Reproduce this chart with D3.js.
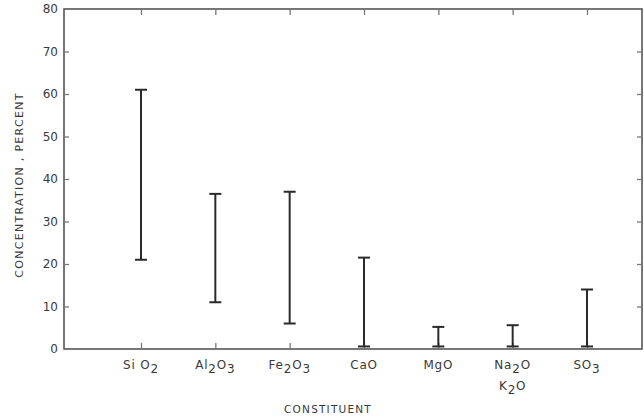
<!DOCTYPE html>
<html>
<head>
<meta charset="utf-8">
<script src="https://cdn.jsdelivr.net/npm/d3@7"></script>
<style>
  html, body { margin: 0; padding: 0; background: #fff; }
  svg { display: block; }
  text { font-family: "DejaVu Sans", sans-serif; fill: #3a3a3a; }
</style>
</head>
<body>
<svg id="chart" width="644" height="418"></svg>
<script>
// ---- data ----
const categories = ["SiO2", "Al2O3", "Fe2O3", "CaO", "MgO", "Na2O K2O", "SO3"];
const lowValues  = [21, 11, 6, 0.6, 0.6, 0.6, 0.6];
const highValues = [61, 36.5, 37, 21.5, 5.2, 5.6, 14];
const yTicks = [0, 10, 20, 30, 40, 50, 60, 70, 80];
// label pieces: [text, isSubscript]; each inner array is one line
const categoryLabels = [
  [[["Si O", false], ["2", true]]],
  [[["Al", false], ["2", true], ["O", false], ["3", true]]],
  [[["Fe", false], ["2", true], ["O", false], ["3", true]]],
  [[["CaO", false]]],
  [[["MgO", false]]],
  [[["Na", false], ["2", true], ["O", false]], [["K", false], ["2", true], ["O", false]]],
  [[["SO", false], ["3", true]]]
];
const yTitle = "CONCENTRATION , PERCENT";
const xTitle = "CONSTITUENT";

// ---- layout ----
const mLeft = 64, mRight = 642, mTop = 9, mBottom = 349;
const firstX = 141, lastX = 587;
const svg = d3.select("#chart");
const ink = "#3a3a3a";

const x = d3.scalePoint().domain(categories).range([firstX, lastX]).padding(0);
const y = d3.scaleLinear().domain([0, 80]).range([mBottom, mTop]);

// frame
svg.append("rect")
  .attr("x", mLeft).attr("y", mTop)
  .attr("width", mRight - mLeft).attr("height", mBottom - mTop)
  .attr("fill", "none").attr("stroke", "#555").attr("stroke-width", 1.6);

const innerTicks = yTicks.filter(v => v > 0 && v < 80);

// left axis
const gl = svg.append("g").attr("transform", `translate(${mLeft},0)`)
  .call(d3.axisLeft(y).tickValues(yTicks).tickSizeInner(-5).tickSizeOuter(0).tickPadding(6).tickFormat(d3.format("d")));
gl.select(".domain").remove();
gl.selectAll(".tick line").attr("stroke", "#777").attr("stroke-width", 1.3)
  .filter(d => d === 0 || d === 80).remove();
gl.selectAll(".tick text").attr("font-size", 12).attr("fill", ink).style("font-family", "DejaVu Sans");

// right axis
const gr = svg.append("g").attr("transform", `translate(${mRight},0)`)
  .call(d3.axisRight(y).tickValues(innerTicks).tickSizeInner(-5).tickSizeOuter(0).tickFormat(""));
gr.select(".domain").remove();
gr.selectAll(".tick line").attr("stroke", "#777").attr("stroke-width", 1.3);

// top axis
const gt = svg.append("g").attr("transform", `translate(0,${mTop})`)
  .call(d3.axisTop(x).tickSizeInner(-6).tickSizeOuter(0).tickFormat(""));
gt.select(".domain").remove();
gt.selectAll(".tick line").attr("stroke", "#777").attr("stroke-width", 1.3);

// bottom axis
const gb = svg.append("g").attr("transform", `translate(0,${mBottom})`)
  .call(d3.axisBottom(x).tickSizeInner(-6).tickSizeOuter(0).tickFormat(""));
gb.select(".domain").remove();
gb.selectAll(".tick line").attr("stroke", "#777").attr("stroke-width", 1.3);

// category labels with subscripts
categories.forEach((c, i) => {
  const lines = categoryLabels[i];
  lines.forEach((parts, li) => {
    const t = svg.append("text")
      .attr("x", x(c)).attr("y", mBottom + 20 + li * 21)
      .attr("text-anchor", "middle")
      .attr("font-size", 12)
      .attr("letter-spacing", 0.8);
    let sub = false;
    parts.forEach(([txt, isSub]) => {
      const sp = t.append("tspan").text(txt);
      if (isSub && !sub) { sp.attr("dy", 4); sub = true; }
      else if (!isSub && sub) { sp.attr("dy", -4); sub = false; }
    });
  });
});

// error bars
const bars = categories.map((c, i) => ({ c, lo: lowValues[i], hi: highValues[i] }));
const capW = 12;
const eb = svg.append("g").attr("stroke", "#2a2a2a").attr("stroke-width", 2);
eb.selectAll("line.stem").data(bars).join("line").attr("class", "stem")
  .attr("x1", d => x(d.c)).attr("x2", d => x(d.c))
  .attr("y1", d => y(d.lo)).attr("y2", d => y(d.hi));
eb.selectAll("line.capHi").data(bars).join("line").attr("class", "capHi")
  .attr("x1", d => x(d.c) - capW / 2).attr("x2", d => x(d.c) + capW / 2)
  .attr("y1", d => y(d.hi)).attr("y2", d => y(d.hi));
eb.selectAll("line.capLo").data(bars).join("line").attr("class", "capLo")
  .attr("x1", d => x(d.c) - capW / 2).attr("x2", d => x(d.c) + capW / 2)
  .attr("y1", d => y(d.lo)).attr("y2", d => y(d.lo));

// axis titles
svg.append("text")
  .attr("transform", `translate(23,${(mTop + mBottom) / 2 + 6}) rotate(-90)`)
  .attr("text-anchor", "middle")
  .attr("font-size", 11)
  .attr("letter-spacing", 1.3)
  .text(yTitle);

svg.append("text")
  .attr("x", 328).attr("y", 413)
  .attr("text-anchor", "middle")
  .attr("font-size", 10.5)
  .attr("letter-spacing", 1.2)
  .text(xTitle);
</script>
</body>
</html>
